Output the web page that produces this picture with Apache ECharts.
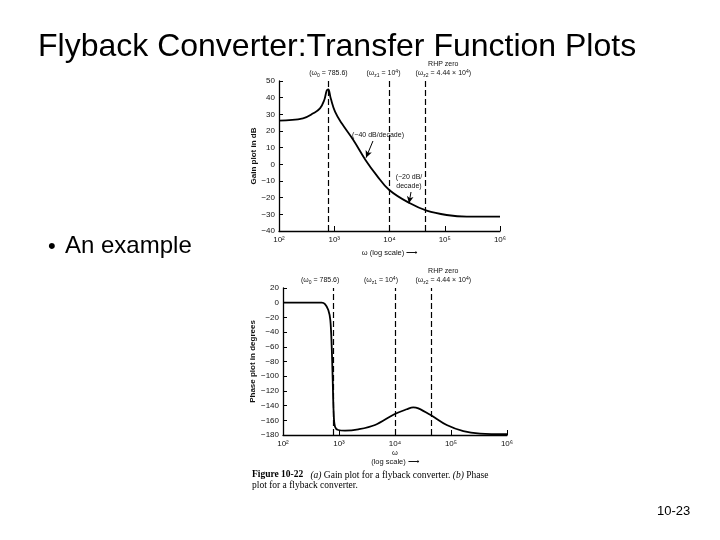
<!DOCTYPE html>
<html><head><meta charset="utf-8">
<script src="https://cdn.jsdelivr.net/npm/echarts@6/dist/echarts.min.js"></script>
<style>html,body{margin:0;padding:0;background:#fff}#c{width:720px;height:540px}</style>
</head><body><div id="c"></div>
<script>
// ---- data ----
const freqTicks = [100, 1000, 10000, 100000, 1000000];
const gainFreq = [100, 272, 418, 552, 660, 730, 780, 863, 1033, 1365, 2213, 3700, 5860, 9900, 23500, 47100, 108000, 250000, 1000000];
const gainDb   = [26.2, 27.6, 30.6, 33.6, 38.6, 44.2, 45, 39.6, 31.6, 24.6, 14.6, 2.5, -6.6, -15.4, -23.4, -27.8, -30.4, -31.4, -31.4];
const phaseFreq = [100, 491, 562, 644, 700, 741, 772, 804, 849, 973, 1280, 2210, 4400, 9720, 16200, 21200, 26100, 43400, 83800, 166000, 330000, 1000000];
const phaseDeg  = [0, 0, -1.8, -9.9, -23.5, -59.8, -105, -150.5, -168.7, -173.2, -174, -172.3, -166.4, -151.8, -145, -142.3, -143.7, -152.8, -166.4, -174.6, -178, -179];
const markFreq = [785.6, 1e4, 4.44e4];
const markLabels = ['(ω{s|0} = 785.6)', '(ω{s|z1} = 10{p|4})', 'RHP zero\n(ω{s|z2} = 4.44 × 10{p|4})'];
const gainTicks = [-40, 50, 10];
const phaseTicks = [-180, 20, 20];
const slopeNotes = ['(−40 dB/decade)', '(−20 dB/\ndecade)'];
const slopeNotePos = [[6190, 17.5], [22500, -10.6]];
const slopeArrows = [[[5020, 14], [3760, 4]], [[24500, -16.6], [22500, -23.4]]];
const titleText = 'Flyback Converter:Transfer Function Plots';
const bulletText = 'An example';
const captionText = '{b|Figure 10-22}   {i|(a)} Gain plot for a flyback converter. {i|(b)} Phase\nplot for a flyback converter.';
const pageText = '10-23';

// ---- chart ----
const chart = echarts.init(document.getElementById('c'));
const SANS = 'Liberation Sans, Arial, Helvetica, sans-serif';
const sup = {2:'²',3:'³',4:'⁴',5:'⁵',6:'⁶'};
const xLab = v => '10' + sup[Math.round(Math.log10(v))];
const yLab = v => v < 0 ? '−' + Math.abs(v) : String(v);
const axisFont = {fontFamily: SANS, fontSize: 8, color: '#111'};
const richLab = {
  s: {fontFamily: SANS, fontSize: 5, color: '#111', verticalAlign: 'bottom', lineHeight: 9},
  p: {fontFamily: SANS, fontSize: 5, color: '#111', verticalAlign: 'top', lineHeight: 9}
};

function xAxisCfg(gi, name, gap) {
  return {type: 'log', logBase: 10, gridIndex: gi, min: freqTicks[0], max: freqTicks[freqTicks.length - 1],
    name, nameLocation: 'middle', nameGap: gap,
    nameTextStyle: {fontFamily: SANS, fontSize: 7.5, color: '#111', lineHeight: 9},
    axisLine: {onZero: false, lineStyle: {color: '#000', width: 1.3}},
    axisTick: {inside: true, length: 5, lineStyle: {color: '#000'}},
    axisLabel: {...axisFont, margin: 5, formatter: xLab},
    splitLine: {show: false}, minorTick: {show: false}, minorSplitLine: {show: false}};
}
function yAxisCfg(gi, t, name, gap) {
  return {type: 'value', gridIndex: gi, min: t[0], max: t[1], interval: t[2],
    name, nameLocation: 'middle', nameGap: gap,
    nameTextStyle: {fontFamily: SANS, fontSize: 8, color: '#111', fontWeight: 'bold'},
    axisLine: {show: true, onZero: false, lineStyle: {color: '#000', width: 1.3}},
    axisTick: {show: true, inside: true, length: 4, lineStyle: {color: '#000'}},
    axisLabel: {...axisFont, margin: 4, formatter: yLab},
    splitLine: {show: false}};
}
function vLines(paddings) {
  return markFreq.map((f, i) => ({xAxis: f,
    label: {show: true, position: 'end', distance: 3, formatter: markLabels[i],
      fontFamily: SANS, fontSize: 7, color: '#111', lineHeight: 9, align: 'center',
      padding: paddings[i], rich: richLab}}));
}

const gainMarkLines = vLines([[0,0,0,0],[0,12,0,0],[0,0,0,36]]).concat(
  slopeArrows.map(a => [
    {coord: a[0], symbol: 'none', label: {show: false}, lineStyle: {type: 'solid', width: 1}},
    {coord: a[1], symbol: 'arrow', symbolSize: [5, 7]}
  ]));

const option = {
  animation: false,
  backgroundColor: '#fff',
  grid: [
    {left: 279, top: 81, width: 221, height: 150},
    {left: 283, top: 288, width: 224, height: 147}
  ],
  xAxis: [xAxisCfg(0, 'ω (log scale) ⟶', 17), xAxisCfg(1, 'ω\n(log scale) ⟶', 11)],
  yAxis: [yAxisCfg(0, gainTicks, 'Gain plot in dB', 21), yAxisCfg(1, phaseTicks, 'Phase plot in degrees', 24)],
  series: [
    {type: 'line', xAxisIndex: 0, yAxisIndex: 0, showSymbol: false, smooth: 0.4,
     data: gainFreq.map((f, i) => [f, gainDb[i]]),
     lineStyle: {color: '#000', width: 1.8},
     markLine: {silent: true, symbol: 'none', lineStyle: {type: [6, 3], color: '#000', width: 1.2},
       data: gainMarkLines},
     markPoint: {silent: true, symbol: 'circle', symbolSize: 0,
       data: slopeNotes.map((t, i) => ({coord: slopeNotePos[i],
         label: {show: true, position: 'inside', formatter: t, fontFamily: SANS, fontSize: 7, color: '#111', lineHeight: 9}}))}
    },
    {type: 'line', xAxisIndex: 1, yAxisIndex: 1, showSymbol: false, smooth: 0.35,
     data: phaseFreq.map((f, i) => [f, phaseDeg[i]]),
     lineStyle: {color: '#000', width: 1.8},
     markLine: {silent: true, symbol: 'none', lineStyle: {type: [6, 3], color: '#000', width: 1.2},
       data: vLines([[0,26,0,0],[0,28,0,0],[0,0,0,24]])}
    }
  ],
  graphic: [
    {type: 'text', left: 38, top: 31, style: {text: titleText, font: '32px ' + SANS, fill: '#000'}},
    {type: 'text', left: 48, top: 236, style: {text: '•', font: '22px ' + SANS, fill: '#000'}},
    {type: 'text', left: 65, top: 234, style: {text: bulletText, font: '24px ' + SANS, fill: '#000'}},
    {type: 'text', left: 252, top: 470, style: {text: captionText, font: '9.5px Liberation Serif, Times New Roman, serif', fill: '#000', lineHeight: 10,
      rich: {b: {fontWeight: 'bold', fontFamily: 'Liberation Serif, serif', fontSize: 9.5}, i: {fontStyle: 'italic', fontFamily: 'Liberation Serif, serif', fontSize: 9.5}}}},
    {type: 'text', left: 657, top: 505, style: {text: pageText, font: '13px ' + SANS, fill: '#000'}}
  ]
};
chart.setOption(option);
</script></body></html>
